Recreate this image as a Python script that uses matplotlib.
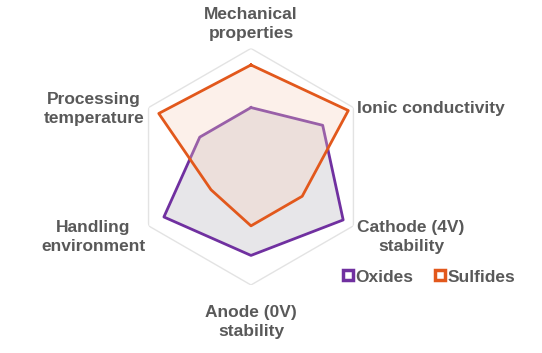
import numpy as np
import matplotlib
matplotlib.use("Agg")
from matplotlib import pyplot as plt
from matplotlib.lines import Line2D

plt.rcParams['font.family'] = ['Liberation Sans', 'DejaVu Sans']

# axes, clockwise from the top
categories = ["Mechanical\nproperties", "Ionic conductivity", "Cathode (4V)\nstability",
              "Anode (0V)\nstability", "Handling\nenvironment", "Processing\ntemperature"]
oxides = [5.0, 7.0, 9.0, 7.5, 8.5, 5.0]
sulfides = [8.6, 9.5, 5.0, 5.0, 3.9, 9.0]
r_max = 10

text_col = "#595959"
ox_col = "#7030a0"
su_col = "#e2581c"

fig = plt.figure(figsize=(5.42, 3.53), dpi=100)
ax = fig.add_axes([0.2448, 0.1926, 0.4365, 0.6703], projection="polar")
ax.set_theta_offset(np.pi / 2)
ax.set_theta_direction(-1)

n = len(categories)
angles = np.linspace(0, 2 * np.pi, n, endpoint=False)
ang = np.append(angles, angles[0])

# outer hexagon
ax.plot(ang, [r_max] * (n + 1), color="#e3e3e3", lw=1, zorder=1)

ox = np.append(oxides, oxides[0])
su = np.append(sulfides, sulfides[0])
ax.fill(ang, ox, color="#e7e6e9", zorder=2)
ax.plot(ang, ox, color=ox_col, lw=2, zorder=3)
ax.fill(ang, su, color="#f8d0bc", alpha=0.3, zorder=4)
ax.plot(ang, su, color=su_col, lw=2, zorder=5)

ax.set_ylim(0, r_max)
ax.set_xticks([])
ax.set_yticks([])
ax.grid(False)
ax.spines["polar"].set_visible(False)
ax.set_facecolor("none")

# category labels (pixel positions from reference)
W, H = 542, 353
label_pos = [(251, 24, "center"), (357, 109, "left"), (411, 237, "center"),
             (251, 322, "center"), (93, 237, "center"), (94, 109, "center")]
for lab, (x, y, ha) in zip(categories, label_pos):
    fig.text(x / W, 1 - y / H, lab, ha=ha, va="center", fontsize=12.5,
             fontweight="bold", color=text_col, linespacing=1.3)

handles = [Line2D([], [], ls="", marker="s", ms=7, mfc="white", mec=ox_col, mew=2.5),
           Line2D([], [], ls="", marker="s", ms=7, mfc="white", mec=su_col, mew=2.5)]
leg = fig.legend(handles, ["Oxides", "Sulfides"], loc="center left",
                 bbox_to_anchor=(327 / W, 1 - 277 / H), ncol=2, frameon=False,
                 handlelength=0.6, handletextpad=0.15, columnspacing=1.2,
                 prop={"size": 12.5, "weight": "bold"})
for t in leg.get_texts():
    t.set_color(text_col)

fig.savefig("out.png", dpi=100)
